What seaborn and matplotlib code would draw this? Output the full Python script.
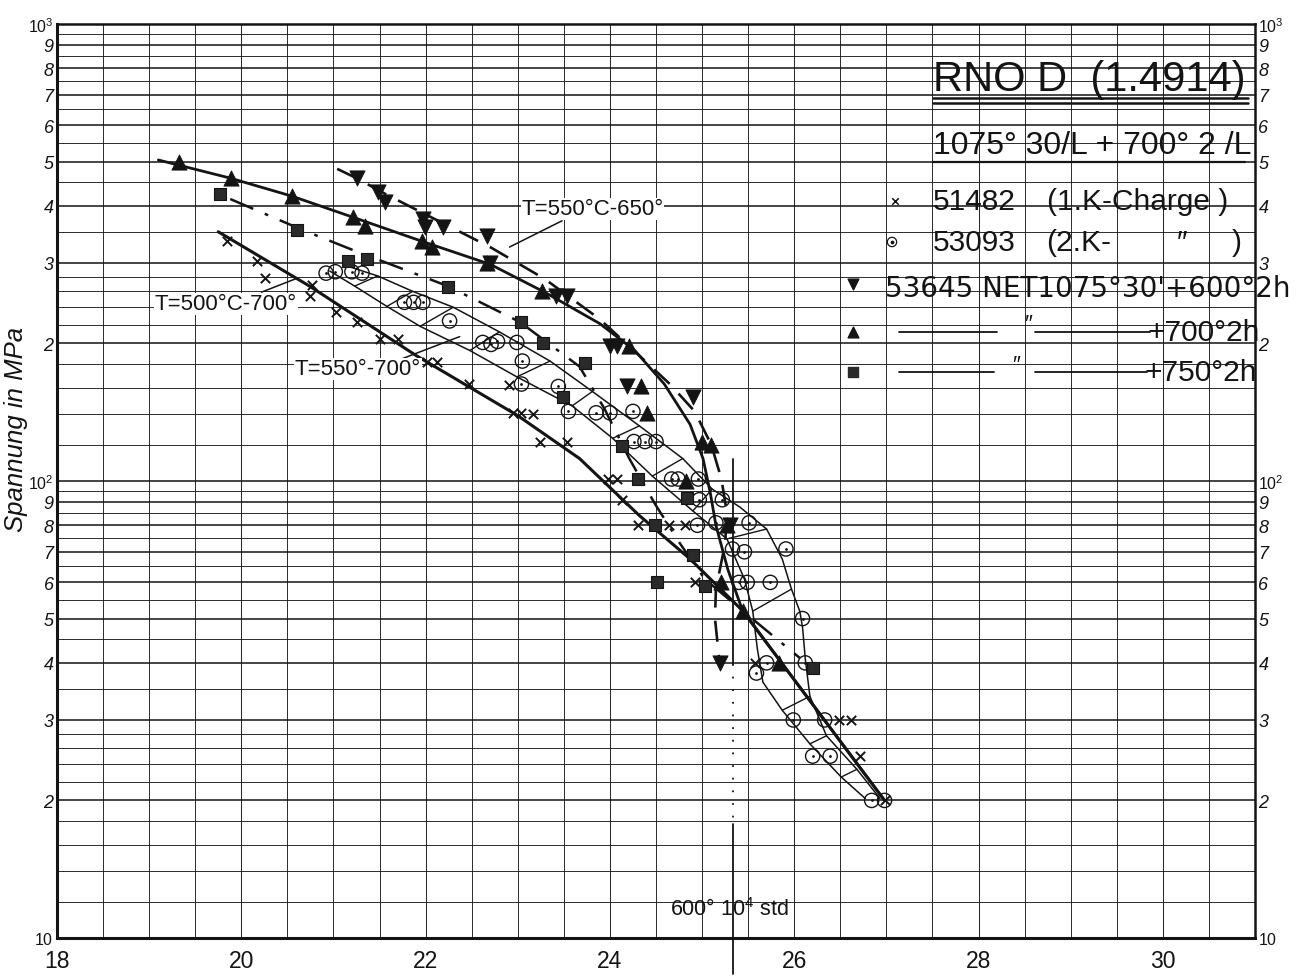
import numpy as np
import matplotlib
matplotlib.use("Agg")
import matplotlib.pyplot as plt
from matplotlib.ticker import NullFormatter
import seaborn as sns

# ---------------- measured points: parameter P vs. stress (MPa) ----------------
# heat 51482 (1st charge)
p_51482 = [19.85, 20.17, 20.26, 20.77, 20.74, 21.03, 21.26, 21.51, 21.70, 22.01,
           22.12, 22.47, 22.91, 22.95, 23.04, 23.16, 23.24, 23.53, 23.98, 24.08,
           24.13, 24.31, 24.64, 24.81, 24.92, 25.57, 26.49, 26.62, 26.71, 26.98]
s_51482 = [335, 303, 278, 268, 254, 234, 223, 205, 204, 182,
           182, 163, 162, 141, 141, 140, 122, 122, 101, 101,
           91, 80, 80, 80, 60, 40, 30, 30, 25, 20]

# heat 53093 (2nd charge)
p_53093 = [20.92, 21.02, 21.20, 21.31, 21.77, 21.87, 21.97, 22.26, 22.62, 22.71,
           22.78, 22.99, 23.05, 23.04, 23.44, 23.55, 23.85, 24.00, 24.25, 24.26,
           24.38, 24.50, 24.67, 24.74, 24.96, 24.97, 25.22, 24.95, 25.15, 25.51,
           25.33, 25.46, 25.91, 25.40, 25.49, 25.74, 26.09, 25.70, 25.59, 26.12,
           25.99, 26.33, 26.20, 26.39, 26.84, 26.98]
s_53093 = [285, 287, 287, 285, 246, 246, 246, 224, 201, 199,
           202, 201, 183, 163, 161, 142, 141, 141, 142, 122,
           122, 122, 101, 101, 101, 91, 91, 80, 81, 81,
           71, 70, 71, 60, 60, 60, 50, 40, 38, 40,
           30, 30, 25, 25, 20, 20]

# heat 53645, 1075 C 30' + 600 / 700 / 750 C 2h
p_600 = [21.25, 21.48, 21.56, 21.97, 21.99, 22.19, 22.67, 22.70, 23.42, 23.53,
         24.00, 24.08, 24.19, 24.90, 25.30, 25.19]
s_600 = [460, 429, 408, 374, 360, 360, 344, 300, 254, 254,
         197, 197, 161, 153, 80, 40]

p_700 = [19.32, 19.89, 20.55, 21.21, 21.34, 21.96, 22.07, 22.67, 23.26, 24.21,
         24.34, 24.40, 25.00, 25.10, 24.83, 25.27, 25.21, 25.44, 25.84]
s_700 = [500, 460, 420, 378, 361, 335, 325, 300, 260, 197,
         161, 141, 122, 120, 100, 80, 60, 52, 40]

p_750 = [19.77, 20.60, 21.16, 21.36, 22.24, 23.03, 23.27, 23.73, 23.49, 24.13,
         24.30, 24.84, 24.49, 24.90, 24.51, 25.03, 26.20]
s_750 = [425, 354, 303, 306, 266, 223, 200, 181, 153, 119,
         101, 92, 80, 69, 60, 59, 39]

# ---------------- hand-fitted mean curves ----------------
fit600_p = [21.04, 21.25, 21.56, 21.99, 22.70, 23.29, 23.89, 24.32, 24.65, 24.92,
            25.10, 25.21, 25.27, 25.25, 25.15, 25.14, 25.19]
fit600_s = [482, 460, 425, 384, 325, 277, 226, 188, 163, 142,
            120, 101, 85, 73, 58, 50, 40]

fit700_p = [19.10, 19.88, 20.55, 21.24, 21.99, 22.70, 23.29, 23.89, 24.27, 24.59,
            24.87, 25.01, 25.09, 25.15, 25.28, 25.44, 26.98]
fit700_s = [504, 460, 420, 376, 333, 298, 259, 221, 193, 163,
            133, 112, 94, 80, 64, 52, 20]

fit750_p = [19.88, 20.64, 21.18, 22.24, 23.02, 23.67, 23.94, 24.21, 24.49, 24.76,
            25.03, 25.44, 26.06]
fit750_s = [414, 356, 322, 267, 223, 178, 144, 112, 89, 73, 61, 52, 41]

fit51482_p = [19.75, 20.74, 21.90, 23.00, 23.67, 24.32, 24.87, 25.44, 26.98]
fit51482_s = [351, 267, 188, 139, 112, 84, 67.5, 52, 20]

# scatter band of heat 53093: lower and upper bound
band_lo_p = [20.96, 21.23, 21.58, 21.94, 22.48, 22.99, 23.59, 24.03, 24.46, 24.90,
             25.27, 25.46, 25.55, 25.60, 25.66, 25.87, 26.17, 26.51, 26.77]
band_lo_s = [288, 267, 241, 218, 193, 169, 146, 124, 102.5, 86,
             74.7, 61.0, 51.9, 42.9, 36.3, 31.5, 26.6, 22.5, 20.2]
band_hi_p = [21.18, 21.48, 21.86, 22.30, 22.80, 23.35, 23.81, 24.32, 24.79, 25.11,
             25.41, 25.70, 25.87, 25.97, 26.06, 26.09, 26.12, 26.17, 26.35, 26.68,
             26.93]
band_hi_s = [294, 281, 260, 240, 212, 183, 157, 132, 112, 96,
             87.7, 78.5, 67.5, 58.0, 51.9, 47.9, 40.8, 33.8, 27.7, 23.4,
             20.2]
# cross-hatch rungs joining the two bounds (index into lower / upper bound)
rung_lo = [1, 2, 3, 4, 5, 6, 7, 8, 9, 10, 12, 15, 16, 17]
rung_hi = [1, 2, 3, 4, 5, 6, 7, 8, 9, 11, 13, 17, 18, 19]

# reference: 600 C / 10^4 h
p_ref = 25.34

# ---------------- axis ticks ----------------
x_ticks = [18, 20, 22, 24, 26, 28, 30]
x_labels = ["18", "20", "22", "24", "26", "28", "30"]
x_grid = np.arange(18, 31.01, 0.5)
y_ticks = [10, 20, 30, 40, 50, 60, 70, 80, 90,
           100, 200, 300, 400, 500, 600, 700, 800, 900, 1000]
y_labels = [r"$\mathit{10}$", "2", "3", "4", "5", "6", "7", "8", "9",
            r"$\mathit{10^{2}}$", "2", "3", "4", "5", "6", "7", "8", "9",
            r"$\mathit{10^{3}}$"]
y_grid = ([12, 14, 16, 18, 22, 24, 26, 28] + list(range(35, 100, 10)) +
          [120, 140, 160, 180, 220, 240, 260, 280] + list(range(350, 1000, 100)))

# ---------------- style ----------------
sns.set_theme(style="white")
plt.rcParams["font.family"] = ["Liberation Sans", "DejaVu Sans"]
plt.rcParams["mathtext.fontset"] = "custom"
plt.rcParams["mathtext.rm"] = "Liberation Sans"
plt.rcParams["mathtext.it"] = "Liberation Sans:italic"
ink = "#141414"

fig = plt.figure(figsize=(12.99, 9.78), dpi=100)
fig.patch.set_facecolor("white")
ax = fig.add_axes([57 / 1299, 39 / 978, 1198 / 1299, 914 / 978])
ax.set_facecolor("white")
ax.set_yscale("log")
ax.set_xlim(18, 31)
ax.set_ylim(10, 1000)

ax.set_xticks(x_ticks)
ax.set_xticklabels(x_labels, fontsize=16.5)
ax.set_xticks(x_grid, minor=True)
ax.set_yticks(y_ticks)
ax.set_yticklabels(y_labels, fontsize=13, fontstyle="italic")
ax.set_yticks(y_grid, minor=True)
ax.yaxis.set_minor_formatter(NullFormatter())
ax.tick_params(which="both", length=0)
ax.tick_params(axis="y", labelright=True, pad=2.5, colors=ink)
ax.tick_params(axis="x", pad=8, colors=ink)
# decade labels (10, 10^2, 10^3) are lettered a little smaller
for tick, lab in zip(ax.yaxis.get_major_ticks(), y_labels):
    if lab.startswith("$"):
        tick.label1.set_fontsize(11.5)
        tick.label2.set_fontsize(11.5)
ax.grid(which="minor", color=ink, lw=0.7, alpha=0.9)
ax.grid(which="major", axis="x", color=ink, lw=0.75, alpha=0.9)
ax.grid(which="major", axis="y", color=ink, lw=1.1)
for name, sp in ax.spines.items():
    sp.set_color(ink)
    sp.set_linewidth(2.2 if name in ("left", "bottom") else 1.8)

ax.set_ylabel("Spannung in MPa", fontsize=18.5, fontstyle="italic", color=ink,
              va="center")
ax.yaxis.set_label_coords(-0.034, 0.557)

# ---------------- curves ----------------
line_kw = dict(sort=False, estimator=None, color=ink, ax=ax, legend=False)
sns.lineplot(x=fit700_p, y=fit700_s, lw=2.0, zorder=4, **line_kw)
sns.lineplot(x=fit600_p, y=fit600_s, lw=1.9, linestyle=(0, (8, 5)), zorder=4, **line_kw)
sns.lineplot(x=fit750_p, y=fit750_s, lw=1.8, linestyle=(0, (10, 5, 1.5, 5)), zorder=4,
             **line_kw)
sns.lineplot(x=fit51482_p, y=fit51482_s, lw=2.2, zorder=4, **line_kw)
sns.lineplot(x=band_lo_p, y=band_lo_s, lw=1.1, zorder=3, **line_kw)
sns.lineplot(x=band_hi_p, y=band_hi_s, lw=1.1, zorder=3, **line_kw)
for i, j in zip(rung_lo, rung_hi):
    ax.plot([band_lo_p[i], band_hi_p[j]], [band_lo_s[i], band_hi_s[j]],
            color=ink, lw=1.0, zorder=3)

# ---------------- markers ----------------
sns.scatterplot(x=p_51482, y=s_51482, marker="x", color=ink, s=45, linewidth=1.4,
                ax=ax, zorder=6, legend=False)
sns.scatterplot(x=p_53093, y=s_53093, marker="o", color=ink, facecolor="none",
                edgecolor=ink, s=105, linewidth=1.0, ax=ax, zorder=6, legend=False)
sns.scatterplot(x=p_53093, y=s_53093, marker="o", color=ink, s=4, linewidth=0,
                ax=ax, zorder=7, legend=False)
sns.scatterplot(x=p_600, y=s_600, marker="v", color=ink, edgecolor=ink, s=120,
                linewidth=0.6, ax=ax, zorder=6, legend=False)
sns.scatterplot(x=p_700, y=s_700, marker="^", color=ink, edgecolor=ink, s=120,
                linewidth=0.6, ax=ax, zorder=6, legend=False)
sns.scatterplot(x=p_750, y=s_750, marker="s", color="#2a2a2a", edgecolor=ink, s=85,
                linewidth=0.8, ax=ax, zorder=6, legend=False)

# ---------------- annotations ----------------
ann_kw = dict(fontsize=16, color=ink, va="center", ha="left", zorder=8,
              bbox=dict(fc="white", ec="none", pad=0.5))
ax.plot([22.91, 23.48], [325, 371], color=ink, lw=1.1, zorder=5)
ax.text(23.04, 394, "T=550°C-650°", **ann_kw)
ax.plot([20.22, 20.59], [259, 277], color=ink, lw=1.1, zorder=5)
ax.text(19.06, 244, "T=500°C-700°", **ann_kw)
ax.plot([21.74, 22.37], [185, 207], color=ink, lw=1.1, zorder=5)
ax.text(20.58, 176, "T=550°-700°", **ann_kw)

# 600 C / 10^4 h reference line, continued below the axis
ax.plot([p_ref, p_ref], [112, 39.8], color=ink, lw=1.3, zorder=5, clip_on=False)
ax.plot([p_ref, p_ref], [39.8, 17.8], color=ink, lw=1.3, ls=(0, (1, 6)), zorder=5,
        clip_on=False)
ax.plot([p_ref, p_ref], [17.8, 8.34], color=ink, lw=1.3, zorder=5, clip_on=False)
ax.text(24.65, 11.6, r"600° $10^{4}$ std", fontsize=15.5, color=ink, va="center",
        ha="left", zorder=8)

# ---------------- key block (axes fractions) ----------------
T = ax.transAxes
ax.text(0.731, 0.940, "RNO D  (1.4914)", transform=T, fontsize=30, color=ink,
        va="center", ha="left", zorder=9)
for yy in (0.9195, 0.9140):
    ax.plot([0.731, 0.994], [yy, yy], transform=T, color=ink, lw=1.8, zorder=9)
ax.text(0.731, 0.868, "1075° 30/L + 700° 2 /L", transform=T, fontsize=23, color=ink,
        va="center", ha="left", zorder=9)
ax.plot([0.731, 0.992], [0.849, 0.849], transform=T, color=ink, lw=1.6, zorder=9)

row_fs = 21.5
ax.scatter([0.6995], [0.8063], transform=T, marker="x", s=22, lw=1.1, color=ink, zorder=9)
ax.text(0.731, 0.806, "51482", transform=T, fontsize=row_fs, color=ink, va="center", zorder=9)
ax.text(0.826, 0.806, "(1.K-Charge )", transform=T, fontsize=row_fs, color=ink,
        va="center", zorder=9)
ax.scatter([0.697], [0.7615], transform=T, marker="o", s=45, lw=0.9, facecolor="none",
           edgecolor=ink, zorder=9)
ax.scatter([0.697], [0.7615], transform=T, marker="o", s=3, color=ink, zorder=9)
ax.text(0.731, 0.7615, "53093", transform=T, fontsize=row_fs, color=ink, va="center", zorder=9)
ax.text(0.826, 0.7615, "(2.K-", transform=T, fontsize=row_fs, color=ink, va="center", zorder=9)
ax.text(0.935, 0.7615, "″", transform=T, fontsize=row_fs, color=ink, va="center", zorder=9)
ax.text(0.981, 0.7615, ")", transform=T, fontsize=row_fs, color=ink, va="center", zorder=9)
ax.scatter([0.6644], [0.7155], transform=T, marker="v", s=60, color=ink, zorder=9)
ax.text(0.691, 0.7024, "53645 NET1075°30'+600°2h", transform=T, fontsize=20,
        family="DejaVu Sans", color=ink, va="baseline", zorder=9)
ax.scatter([0.6644], [0.663], transform=T, marker="^", s=60, color=ink, zorder=9)
ax.plot([0.703, 0.785], [0.663, 0.663], transform=T, color=ink, lw=1.3, zorder=9)
ax.text(0.807, 0.672, "″", transform=T, fontsize=16, color=ink, va="center", zorder=9)
ax.plot([0.816, 0.912], [0.663, 0.663], transform=T, color=ink, lw=1.3, zorder=9)
ax.text(0.910, 0.663, "+700°2h", transform=T, fontsize=row_fs, color=ink, va="center", zorder=9)
ax.scatter([0.6644], [0.619], transform=T, marker="s", s=45, color="#2a2a2a", zorder=9)
ax.plot([0.703, 0.782], [0.619, 0.619], transform=T, color=ink, lw=1.3, zorder=9)
ax.text(0.797, 0.628, "″", transform=T, fontsize=16, color=ink, va="center", zorder=9)
ax.plot([0.816, 0.910], [0.619, 0.619], transform=T, color=ink, lw=1.3, zorder=9)
ax.text(0.908, 0.619, "+750°2h", transform=T, fontsize=row_fs, color=ink, va="center", zorder=9)

fig.savefig("out.png", dpi=100, facecolor="white")
